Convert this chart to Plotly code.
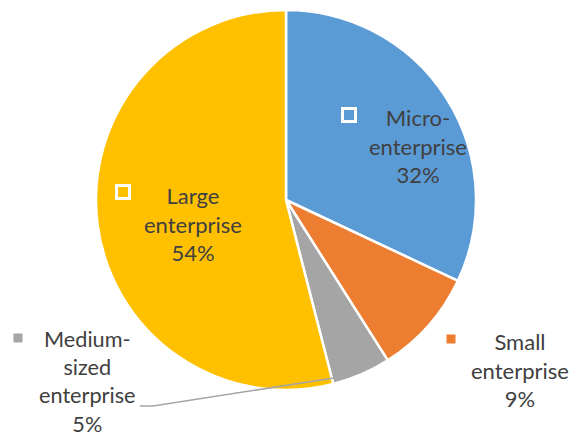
import plotly.graph_objects as go

categories = ["Micro-enterprise", "Small enterprise", "Medium-sized enterprise", "Large enterprise"]
values = [32, 9, 5, 54]
label_lines = [["Micro-", "enterprise"], ["Small", "enterprise"], ["Medium-", "sized", "enterprise"], ["Large", "enterprise"]]
colors = ["#5B9BD5", "#ED7D31", "#A5A5A5", "#FFC000"]

W, H = 571, 437
def px(x): return x / W
def py(y): return 1 - y / H

fig = go.Figure(go.Pie(
    labels=categories, values=values, sort=False, direction="clockwise", rotation=0,
    marker=dict(colors=colors, line=dict(color="white", width=2.5)),
    textinfo="none", hoverinfo="label+percent", showlegend=False,
    domain=dict(x=[px(96), px(476)], y=[py(390), py(10)]),
))

total = sum(values)
# label centers (x, first-line y) in pixels, marker pos, marker style
label_pos = [(418, 117, 349, 115, True), (520, 341, 451, 339, False),
             (87, 339, 18, 338, False), (193, 195, 123, 192, True)]
annotations = []
shapes = []
for i, (cx, cy, mx, my, boxed) in enumerate(label_pos):
    lines = label_lines[i] + [f"{round(values[i] / total * 100)}%"]
    n = len(lines)
    line_h = 28.6 if n < 4 else 28.2
    ymid = cy + (n - 1) * line_h / 2
    annotations.append(dict(
        x=px(cx), y=py(ymid), xref="paper", yref="paper", showarrow=False,
        text="<br>".join(lines), align="center", xanchor="center", yanchor="middle",
        font=dict(family="Lato, Open Sans, sans-serif", size=22 if n < 4 else 21.7, color="#404040"),
    ))
    if boxed:
        s = 6.5
        shapes.append(dict(type="rect", xref="paper", yref="paper",
                           x0=px(mx - s), x1=px(mx + s), y0=py(my + s), y1=py(my - s),
                           fillcolor=colors[i], line=dict(color="white", width=3)))
    else:
        s = 4.5
        shapes.append(dict(type="rect", xref="paper", yref="paper",
                           x0=px(mx - s), x1=px(mx + s), y0=py(my + s), y1=py(my - s),
                           fillcolor=colors[i], line=dict(width=0)))

# leader line for medium-sized
shapes.append(dict(type="path", xref="paper", yref="paper",
                   path=f"M {px(140)} {py(406)} L {px(153)} {py(406)} L {px(334)} {py(378)}",
                   line=dict(color="#A5A5A5", width=1.5)))

fig.update_layout(
    width=W, height=H, margin=dict(l=0, r=0, t=0, b=0),
    paper_bgcolor="white", plot_bgcolor="white",
    annotations=annotations, shapes=shapes,
)
fig.write_html("out.html")
